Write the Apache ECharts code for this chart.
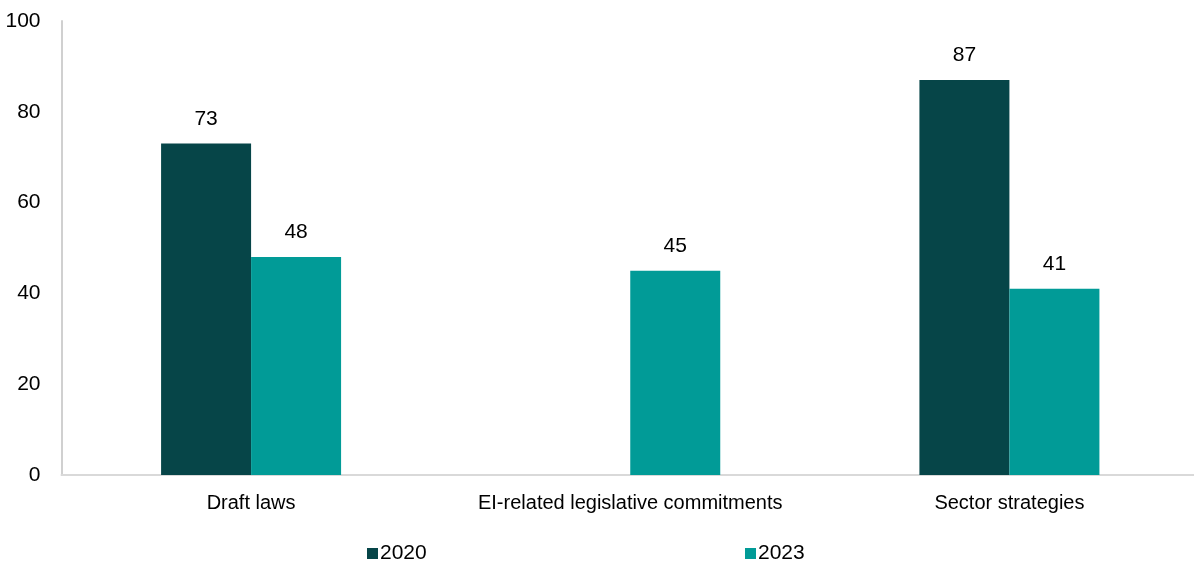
<!DOCTYPE html>
<html><head><meta charset="utf-8">
<script src="https://cdn.jsdelivr.net/npm/echarts@6/dist/echarts.min.js"></script>
<style>html,body{margin:0;padding:0;background:#fff;overflow:hidden;width:1194px;height:566px}#c{width:1199px;height:566px}</style>
</head><body><div id="c"></div>
<script>
const categories = ['Draft laws', 'EI-related legislative commitments', 'Sector strategies'];
const values2020 = [73, null, 87];
const values2023 = [48, 45, 41];
const seriesNames = ['2020', '2023'];
const yTicks = [0, 20, 40, 60, 80, 100];

const FONT = '"Liberation Sans Narrow", "Arial Narrow", "Liberation Sans", Arial, sans-serif';
const chart = echarts.init(document.getElementById('c'));
const lbl = {show: true, position: 'top', distance: 14, color: '#000', fontFamily: FONT, fontSize: 21};
chart.setOption({
  animation: false,
  textStyle: {fontFamily: FONT},
  grid: {left: 61.5, right: 0, top: 21, bottom: 91, containLabel: false},
  legend: [
    {data: [seriesNames[0]], left: 362, bottom: -3, itemWidth: 11, itemHeight: 11, icon: 'rect', itemGap: 4,
     textStyle: {fontFamily: FONT, fontSize: 21, color: '#000', padding: [0,0,0,-3]}},
    {data: [seriesNames[1]], left: 740, bottom: -3, itemWidth: 11, itemHeight: 11, icon: 'rect', itemGap: 4,
     textStyle: {fontFamily: FONT, fontSize: 21, color: '#000', padding: [0,0,0,-3]}}
  ],
  xAxis: {
    type: 'category', data: categories,
    axisLine: {lineStyle: {color: '#d9d9d9', width: 2}},
    axisTick: {show: false},
    axisLabel: {color: '#000', fontFamily: FONT, fontSize: 20, margin: 18, interval: 0}
  },
  yAxis: {
    type: 'value', min: yTicks[0], max: yTicks[yTicks.length-1], interval: 20,
    axisLine: {show: true, lineStyle: {color: '#d0d0d0', width: 2}},
    axisTick: {show: false},
    splitLine: {show: false},
    axisLabel: {color: '#000', fontFamily: FONT, fontSize: 21, margin: 21}
  },
  series: [
    {name: seriesNames[0], type: 'bar', data: values2020, barGap: '0%', barWidth: 90,
     itemStyle: {color: '#064548'}, label: lbl},
    {name: seriesNames[1], type: 'bar', data: values2023, barGap: '0%', barWidth: 90,
     itemStyle: {color: '#019B97'}, label: lbl}
  ]
});
</script></body></html>
